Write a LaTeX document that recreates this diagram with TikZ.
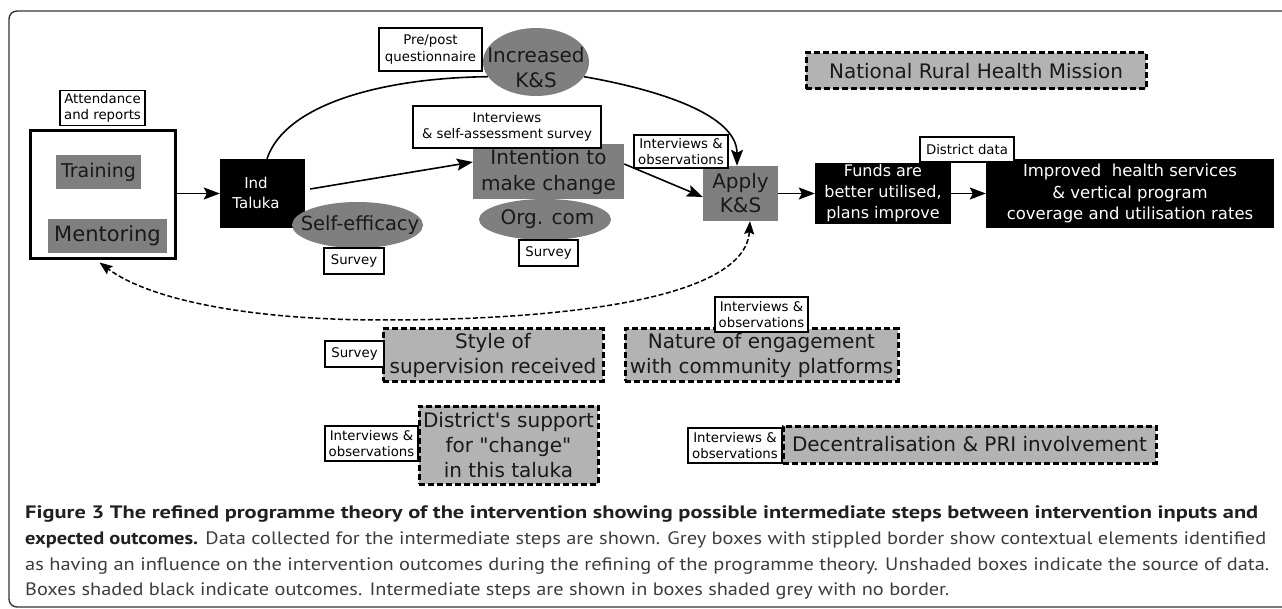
\documentclass[tikz,border=0pt]{standalone}
\usepackage{fontspec}
\usepackage{graphicx}
\usetikzlibrary{shapes.geometric,arrows.meta,calc}
\newfontfamily\dv{DejaVu Sans}
\newfontfamily\capf{PT Sans}
\definecolor{stepgrey}{HTML}{7F7F7F}
\definecolor{ctxgrey}{HTML}{B3B3B3}
\definecolor{captxt}{HTML}{3D3D3D}
\definecolor{capbold}{HTML}{231F20}
\definecolor{frameclr}{HTML}{333333}
\newcommand{\fsz}[2]{\fontsize{#1pt}{#2pt}\selectfont}
\tikzset{
  srcbox/.style={draw=black, line width=1.4pt, fill=white, inner sep=0pt, align=center, font=\dv\fsz{13.3}{16.5}},
  stepbox/.style={fill=stepgrey, inner sep=0pt, align=center, text=black!90},
  outbox/.style={fill=black, inner sep=0pt, align=center, text=white},
  ctxbox/.style={fill=ctxgrey, draw=black, line width=3pt, dash pattern=on 6pt off 3pt, inner sep=0pt, align=center, font=\dv\fsz{20}{25}, text=black!90},
  stepell/.style={ellipse, fill=stepgrey, inner sep=0pt},
  lbl/.style={inner sep=0pt, align=center},
  arr/.style={line width=1.6pt, -{Stealth[length=16pt,width=12pt,inset=3pt]}},
  fb/.style={line width=1.5pt, dash pattern=on 5pt off 2.5pt},
  capline/.style={anchor=base west, inner sep=0pt, text=captxt},
}
\begin{document}
\begin{tikzpicture}[x=1pt,y=-1pt]
\useasboundingbox (0,0) rectangle (1282,609);
\fill[white] (0,0) rectangle (1282,609);
\draw[frameclr, line width=1.4pt, rounded corners=8pt] (1300,11) -- (9,11) -- (9,607) -- (1300,607);

% inputs
\node[srcbox, minimum width=85pt, minimum height=35pt] (att) at (102.5,108) {Attendance\\and reports};
\node[draw=black, line width=3pt, fill=white, minimum width=145pt, minimum height=128pt, inner sep=0pt] (cont) at (102.5,195) {};
\node[stepbox, minimum width=85pt, minimum height=34pt, font=\dv\fsz{19}{23}] (train) at (98.5,172) {Training};
\node[stepbox, minimum width=119pt, minimum height=34pt, font=\dv\fsz{21}{25}] (mentor) at (107.5,236) {Mentoring};

% Ind Taluka
\node[outbox, minimum width=85pt, minimum height=69pt] (ind) at (262.5,193.5) {};
\node[lbl, text=white, font=\dv\fsz{15}{20}] (indT) at (256,193) {Ind\\Taluka};
\node[stepell, minimum width=131pt, minimum height=46pt] (self) at (357.5,225) {};
\node[lbl, font=\dv\fsz{19.5}{24}, text=black!90] (selfT) at (360,225) {Self-efficacy};
\node[srcbox, minimum width=60pt, minimum height=26pt] (s1) at (354,261) {Survey};

% Increased K&S
\node[srcbox, minimum width=103pt, minimum height=43pt] (pp) at (430.5,49.5) {Pre/post\\questionnaire};
\node[stepell, minimum width=106pt, minimum height=68pt] (incks) at (536,62) {};
\node[lbl, font=\dv\fsz{20}{25}, text=black!90] (incksT) at (536,68) {Increased\\K\&S};

% Intention
\node[stepbox, minimum width=151pt, minimum height=55pt, font=\dv\fsz{20}{26}] (intent) at (548.5,171.5) {Intention to\\make change};
\node[srcbox, minimum width=188pt, minimum height=42pt] (isa) at (507,127) {Interviews\\\& self-assessment survey};
\node[stepell, minimum width=132pt, minimum height=41pt] (org) at (545,219.5) {};
\node[lbl, font=\dv\fsz{20}{25}, text=black!90] (orgT) at (547.5,219) {Org. com};
\node[srcbox, minimum width=59pt, minimum height=26pt] (s2) at (548.5,253) {Survey};

% Apply
\node[stepbox, minimum width=75pt, minimum height=55pt, font=\dv\fsz{20}{24}] (apply) at (740.5,193.5) {Apply\\K\&S};
\node[srcbox, minimum width=94pt, minimum height=33pt] (io1) at (681,151.5) {Interviews \&\\observations};

% Outcomes
\node[outbox, minimum width=136pt, minimum height=61pt, font=\dv\fsz{16}{21}] (funds) at (883,193.5) {Funds are\\better utilised,\\plans improve};
\node[outbox, minimum width=288pt, minimum height=69pt, font=\dv\fsz{16.5}{21.5}] (improved) at (1130,193.5) {Improved\ \ health services\\\& vertical program\\coverage and utilisation rates};
\node[srcbox, minimum width=94pt, minimum height=25pt] (dd) at (967,149.5) {District data};

% context
\node[ctxbox, minimum width=340pt, minimum height=36pt] (nrhm) at (976,71) {National Rural Health Mission};
\node[ctxbox, minimum width=220pt, minimum height=52pt] (style) at (493,355) {Style of\\supervision received};
\node[srcbox, minimum width=59pt, minimum height=26pt] (s3) at (354.5,354) {Survey};
\node[ctxbox, minimum width=273pt, minimum height=52pt] (nature) at (761.5,355) {Nature of engagement\\with community platforms};
\node[srcbox, minimum width=93pt, minimum height=35pt] (io2) at (761.5,314.5) {Interviews \&\\observations};
\node[ctxbox, minimum width=179pt, minimum height=78pt] (district) at (508.5,445) {District's support\\for "change"\\in this taluka};
\node[srcbox, minimum width=93pt, minimum height=35pt] (io3) at (371.5,443.5) {Interviews \&\\observations};
\node[ctxbox, minimum width=373pt, minimum height=37pt] (decent) at (969.5,444.5) {Decentralisation \& PRI involvement};
\node[srcbox, minimum width=94pt, minimum height=35pt] (io4) at (735,445.5) {Interviews \&\\observations};

% connectors
\draw[arr] (cont.east |- ind.west) -- (ind.west);
\draw[arr] ($(ind.east)+(5,-4.5)$) -- ($(intent.west)+(0,-9.5)$);
\draw[arr] ($(intent.east)+(0,-7.5)$) -- ($(apply.west)+(0,3.5)$);
\draw[arr] (apply.east) -- (funds.west |- apply.east);
\draw[arr] (funds.east) -- (improved.west |- funds.east);
\draw[line width=1.6pt] ($(ind.north)+(4.5,0)$) .. controls (285,105) and (380,78) .. (incks.197);
\draw[arr] (incks.343) .. controls (660,90) and (737,115) .. ($(apply.north)+(-3.5,0)$);
\coordinate (low) at (383,320);
\draw[fb, {Stealth[length=13pt,width=10pt,inset=2pt]}-{Stealth[length=13pt,width=10pt,inset=2pt]}] ($(apply.south)+(9.5,0)$) .. controls (745,300) and (560,320) .. (low) .. controls (250,320) and (150,300) .. ($(cont.south)+(-3,2)$);

% caption
\node[capline, text=capbold] (cap1) at (25,518) {\resizebox{1233pt}{\height}{\capf\bfseries\fsz{18}{26}Figure 3 The refined programme theory of the intervention showing possible intermediate steps between intervention inputs and}};
\node[capline] (cap2) at (25,544) {\resizebox{1241pt}{\height}{\capf\fsz{18}{26}\textcolor{capbold}{\bfseries expected outcomes.} Data collected for the intermediate steps are shown. Grey boxes with stippled border show contextual elements identified}};
\node[capline] (cap3) at (25,570) {\resizebox{1244pt}{\height}{\capf\fsz{18}{26}as having an influence on the intervention outcomes during the refining of the programme theory. Unshaded boxes indicate the source of data.}};
\node[capline] (cap4) at (25,595) {\resizebox{924pt}{\height}{\capf\fsz{18}{26}Boxes shaded black indicate outcomes. Intermediate steps are shown in boxes shaded grey with no border.}};
\end{tikzpicture}
\end{document}
